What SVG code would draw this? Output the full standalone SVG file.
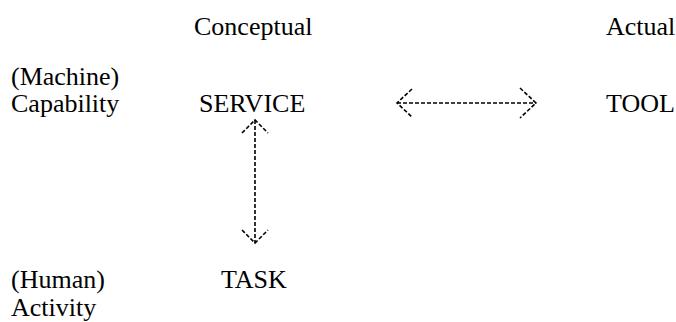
<svg xmlns="http://www.w3.org/2000/svg" width="676" height="322" viewBox="0 0 676 322">
<style>
text{font-family:"Liberation Serif","Times New Roman",serif;font-size:26px;fill:#000}
.c{fill:none;stroke:#000;stroke-width:1.6;stroke-dasharray:4 2}
</style>
<rect width="676" height="322" fill="#fff"/>
<g id="header-conceptual"><text x="194" y="35">Conceptual</text></g>
<g id="header-actual"><text x="606" y="35">Actual</text></g>
<g id="row-machine"><text x="11" y="85">(Machine)</text><text x="11" y="112">Capability</text></g>
<g id="row-human"><text x="11" y="288">(Human)</text><text x="11" y="316">Activity</text></g>
<g id="service"><text x="199" y="112">SERVICE</text></g>
<g id="tool"><text x="606" y="112">TOOL</text></g>
<g id="task"><text x="221" y="288">TASK</text></g>
<g id="connectors">
<path class="c" d="M397 103H536"/>
<path class="c" d="M412 89L397 103L412 117"/>
<path class="c" d="M520 88L536 103L520 118"/>
<path class="c" d="M255 120V243"/>
<path class="c" d="M242 133L255 120L268 133"/>
<path class="c" d="M242 230L255 243L268 230"/>
</g>
</svg>
